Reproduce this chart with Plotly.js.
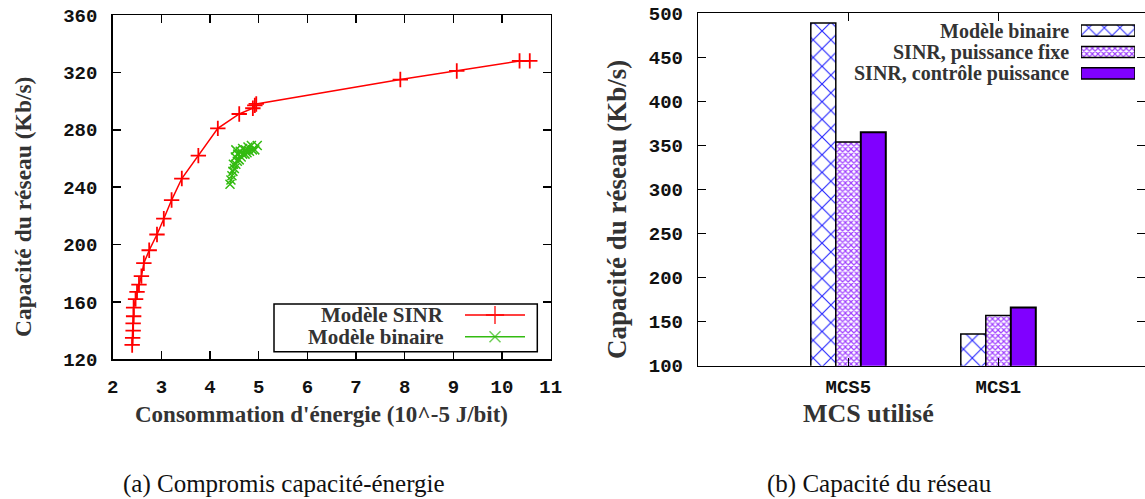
<!DOCTYPE html>
<html>
<head>
<meta charset="utf-8">
<script src="https://cdn.plot.ly/plotly-3.0.1.min.js"></script>
<style>html,body{margin:0;padding:0;background:#fff;}#chart{width:1145px;height:499px;}</style>
</head>
<body>
<div id="chart"></div>
<script>
// ---- Data: (a) capacity vs energy ----
const sinrEnergy = [2.40,2.41,2.42,2.42,2.43,2.43,2.47,2.50,2.54,2.59,2.64,2.75,2.91,3.05,3.21,3.42,3.76,4.16,4.60,4.88,4.92,4.95,7.91,9.07,10.36,10.57];
const sinrCapacity = [130,135,140,145,150,156,162,167,172,178,187,196,207,218,231,246,262,281,291,295,297,298,315,321,328,328];
const binEnergy = [4.41,4.43,4.45,4.47,4.50,4.48,4.53,4.56,4.52,4.60,4.57,4.64,4.53,4.67,4.62,4.72,4.67,4.76,4.73,4.81,4.78,4.87,4.85,4.92,4.97];
const binCapacity = [242,245,248,251,253,256,256,258,261,259,263,261,266,263,265,263,267,264,266,265,268,266,269,266,269];

// ---- Data: (b) network capacity ----
const mcsCategories = ['MCS5','MCS1'];
const capBinaire = [489,136];
const capSinrFixe = [354,157];
const capSinrControle = [365,166];

const seriesNamesA = ['Modèle SINR','Modèle binaire'];
const seriesNamesB = ['Modèle binaire','SINR, puissance fixe','SINR, contrôle puissance'];

const W = 1145, H = 499;
const px = v => v / W;
const py = v => 1 - v / H;

const RED = '#ff0000';
const GREEN = '#33bb11';
const BLUE = '#2a2aff';
const PINK = '#a040ff';
const VIOLET = '#8000ff';

const SERIF = 'Liberation Serif';
const tickFont = {family:'Liberation Mono', size:19, weight:'bold', color:'#111'};

const patBin = {shape:'x', fgcolor:BLUE, bgcolor:'white', size:12.5, solidity:0.18};
const patFixe = {shape:'x', fgcolor:PINK, bgcolor:'white', size:4, solidity:0.5};

const traces = [
  {x:sinrEnergy, y:sinrCapacity, xaxis:'x', yaxis:'y', type:'scatter', mode:'lines+markers', name:seriesNamesA[0],
   line:{color:RED, width:1.5}, marker:{symbol:'cross-thin', size:11, line:{color:RED, width:1.8}}, showlegend:false},
  {x:binEnergy, y:binCapacity, xaxis:'x', yaxis:'y', type:'scatter', mode:'lines+markers', name:seriesNamesA[1],
   line:{color:GREEN, width:1.2}, marker:{symbol:'x-thin', size:9, line:{color:GREEN, width:1.5}}, showlegend:false},
  // legend samples (a)
  {x:[0,0.5,1], y:[1,1,1], xaxis:'x3', yaxis:'y3', type:'scatter', mode:'lines+markers', hoverinfo:'skip', showlegend:false,
   line:{color:RED, width:1.5}, marker:{symbol:'cross-thin', size:[0,13,0], line:{color:RED, width:1.8}}},
  {x:[0,0.5,1], y:[0,0,0], xaxis:'x3', yaxis:'y3', type:'scatter', mode:'lines+markers', hoverinfo:'skip', showlegend:false,
   line:{color:GREEN, width:1.5}, marker:{symbol:'x-thin', size:[0,11,0], line:{color:GREEN, width:1.5}}},
  // bars (b)
  {x:mcsCategories, y:capBinaire, xaxis:'x2', yaxis:'y2', type:'bar', name:seriesNamesB[0], showlegend:false,
   marker:{color:'white', pattern:patBin, line:{color:'#000', width:1.5}}},
  {x:mcsCategories, y:capSinrFixe, xaxis:'x2', yaxis:'y2', type:'bar', name:seriesNamesB[1], showlegend:false,
   marker:{color:'white', pattern:patFixe, line:{color:'#000', width:1.5}}},
  {x:mcsCategories, y:capSinrControle, xaxis:'x2', yaxis:'y2', type:'bar', name:seriesNamesB[2], showlegend:false,
   marker:{color:VIOLET, line:{color:'#000', width:2}}},
  // legend swatches (b)
  {x:[1], y:[2], base:0, width:0.52, offset:-0.26, orientation:'h', xaxis:'x4', yaxis:'y4', type:'bar', hoverinfo:'skip', showlegend:false,
   marker:{color:'white', pattern:{shape:'x', fgcolor:BLUE, bgcolor:'white', size:11, solidity:0.18}, line:{color:'#000', width:1.5}}},
  {x:[1], y:[1], base:0, width:0.52, offset:-0.26, orientation:'h', xaxis:'x4', yaxis:'y4', type:'bar', hoverinfo:'skip', showlegend:false,
   marker:{color:'white', pattern:patFixe, line:{color:'#000', width:1.5}}},
  {x:[1], y:[0], base:0, width:0.52, offset:-0.26, orientation:'h', xaxis:'x4', yaxis:'y4', type:'bar', hoverinfo:'skip', showlegend:false,
   marker:{color:VIOLET, line:{color:'#000', width:1.5}}}
];

function ann(text, x, y, opts) {
  return Object.assign({text:text, x:px(x), y:py(y), xref:'paper', yref:'paper', xanchor:'center', yanchor:'middle', showarrow:false, borderpad:0}, opts);
}
const legFontA = {family:SERIF, size:21, weight:'bold', color:'#333'};
const legFontB = {family:SERIF, size:20, weight:'bold', color:'#333'};

const annotations = [
  ann(seriesNamesA[0], 445, 315, {xanchor:'right', font:legFontA}),
  ann(seriesNamesA[1], 445, 336.7, {xanchor:'right', font:legFontA}),
  ann(seriesNamesB[0], 1070, 30.7, {xanchor:'right', font:legFontB}),
  ann(seriesNamesB[1], 1070, 52.7, {xanchor:'right', font:legFontB}),
  ann(seriesNamesB[2], 1070, 73.3, {xanchor:'right', font:legFontB}),
  // axis titles
  ann("Consommation d'énergie (10^-5 J/bit)", 321, 414, {font:{family:SERIF, size:23, weight:'bold', color:'#333'}}),
  ann('Capacité du réseau (Kb/s)', 23, 207, {textangle:-90, font:{family:SERIF, size:23.5, weight:'bold', color:'#333'}}),
  ann('Capacité du réseau (Kb/s)', 617, 209, {textangle:-90, font:{family:SERIF, size:27, weight:'bold', color:'#333'}}),
  ann('MCS utilisé', 868.5, 413, {font:{family:SERIF, size:26, weight:'bold', color:'#333'}}),
  // captions
  ann('(a) Compromis capacité-énergie', 122, 484, {xanchor:'left', font:{family:SERIF, size:25, color:'#111'}}),
  ann('(b) Capacité du réseau', 766, 484, {xanchor:'left', font:{family:SERIF, size:25, color:'#111'}})
];

const axisCommon = {showline:true, linecolor:'#000', linewidth:1.5, ticks:'inside', ticklen:8, tickcolor:'#000', tickwidth:1.5,
  mirror:'allticks', showgrid:false, zeroline:false, tickfont:tickFont, automargin:false, fixedrange:true};

const layout = {
  width:W, height:H, margin:{l:0, r:0, t:0, b:0}, paper_bgcolor:'#fff', plot_bgcolor:'#fff', showlegend:false,
  barmode:'group', bargap:0.5, bargroupgap:0,
  xaxis:Object.assign({}, axisCommon, {domain:[px(112.7), px(550.7)], range:[2,11], dtick:1, tick0:0, anchor:'y', ticklabelstandoff:9}),
  yaxis:Object.assign({}, axisCommon, {domain:[py(359.3), py(15)], range:[120,360], dtick:40, tick0:0, anchor:'x', ticklabelstandoff:10}),
  xaxis2:Object.assign({}, axisCommon, {domain:[px(698.3), 1], type:'category', range:[-1, 1.978], anchor:'y2', ticklabelstandoff:3}),
  yaxis2:Object.assign({}, axisCommon, {domain:[py(365.7), py(13.3)], range:[100,500], dtick:50, tick0:0, anchor:'x2', ticklabelstandoff:10}),
  xaxis3:{domain:[px(465), px(525)], range:[0,1], visible:false, anchor:'y3', fixedrange:true},
  yaxis3:{domain:[py(347.55), py(304.15)], range:[-0.5,1.5], visible:false, anchor:'x3', fixedrange:true},
  xaxis4:{domain:[px(1081), px(1135)], range:[0,1], visible:false, anchor:'y4', fixedrange:true},
  yaxis4:{domain:[py(84), py(20)], range:[-0.5,2.5], visible:false, anchor:'x4', fixedrange:true},
  shapes:[
    {type:'rect', xref:'paper', yref:'paper', x0:px(274), x1:px(537.3), y0:py(351.7), y1:py(304), line:{color:'#000', width:1.5}, fillcolor:'rgba(0,0,0,0)'}
  ],
  annotations:annotations
};

Plotly.newPlot('chart', traces, layout, {displayModeBar:false, staticPlot:true});
</script>
</body>
</html>
